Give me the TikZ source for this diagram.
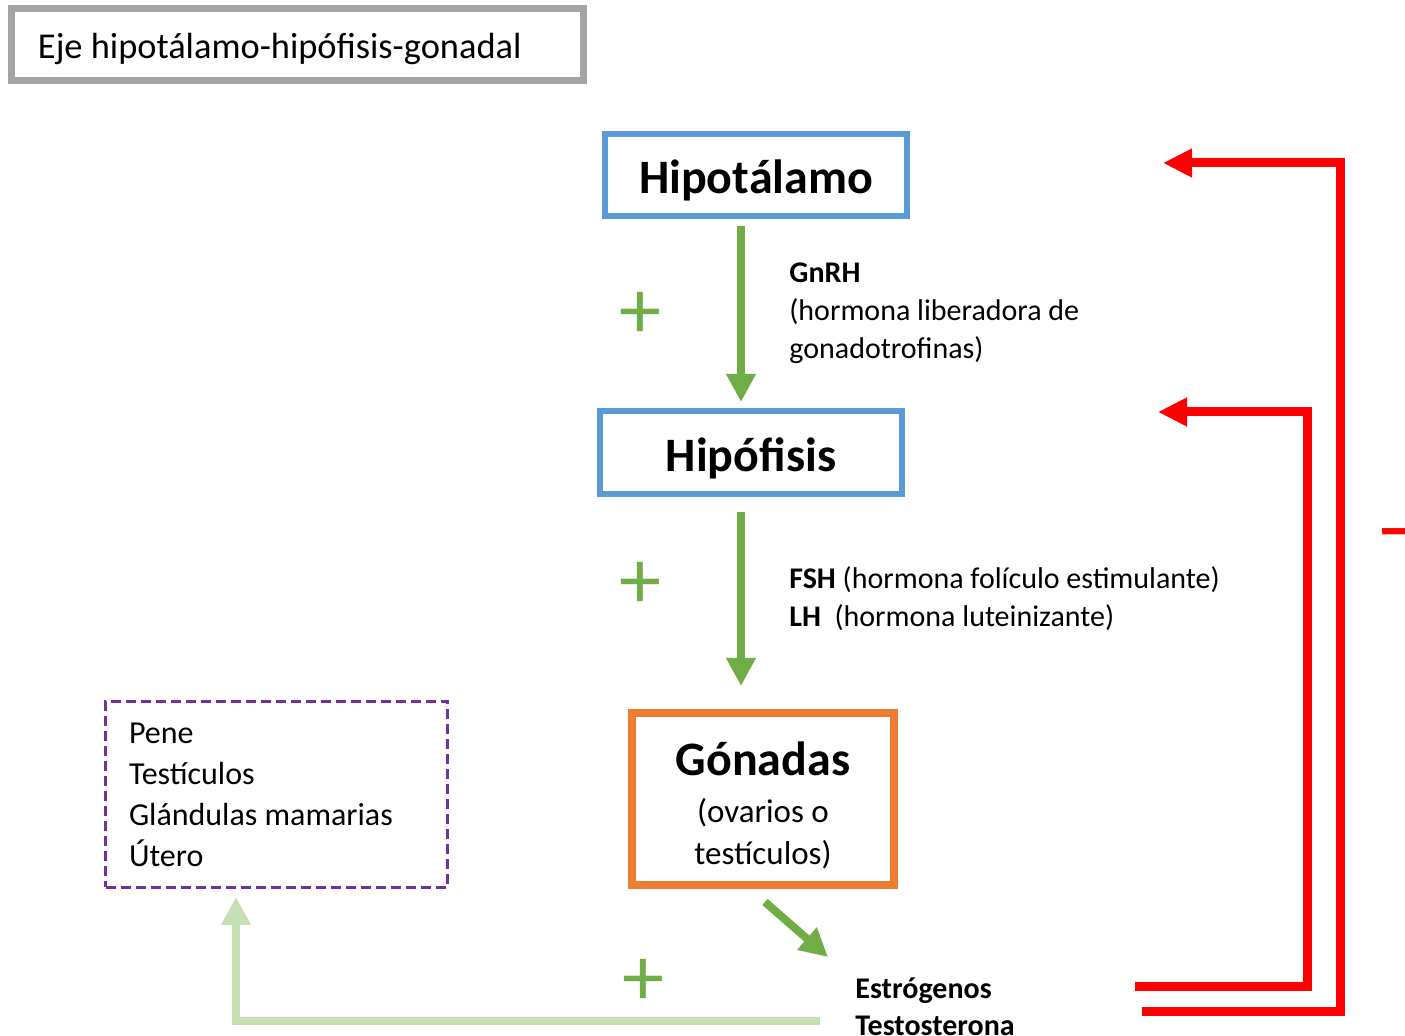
\documentclass[tikz,border=0pt]{standalone}
\usepackage{fontspec}
\setmainfont{Carlito}
\usetikzlibrary{arrows.meta}

\definecolor{boxblue}{HTML}{5B9BD5}
\definecolor{boxorange}{HTML}{ED7D31}
\definecolor{upgreen}{HTML}{70AD47}
\definecolor{palegreen}{HTML}{C5E0B4}
\definecolor{organpurple}{HTML}{7030A0}
\definecolor{titlegray}{HTML}{A5A5A5}

% lower a line of text, keeping its box size
\newcommand{\bajar}[2][3pt]{\raisebox{-#1}[\height][\depth]{#2}}

\tikzset{
	levelbox/.style={draw=#1, line width=3pt, inner sep=0pt, align=center,
		font=\fontsize{24}{28}\selectfont\bfseries},
	hormonetext/.style={anchor=north west, inner sep=0pt, align=flush left,
		font=\fontsize{15}{19}\selectfont},
	uparrow/.style={draw=upgreen, line width=4pt,
		-{Triangle[length=14pt,width=14pt]}},
	feedback/.style={draw=red, line width=4.5pt, line join=miter,
		-{Triangle[length=14.5pt,width=13.5pt]}},
	gainsign/.style={text=upgreen, inner sep=0pt, font=\fontsize{42}{42}\selectfont}
}

\begin{document}
\begin{tikzpicture}[x=0.5pt,y=-0.5pt]
\useasboundingbox (0,0) rectangle (1405,1036);

% TITLE
\node[draw=titlegray, line width=3.5pt, inner xsep=13.25pt, text width=259.5pt,
	minimum height=36pt, align=flush left, font=\fontsize{18.2}{22}\selectfont]
	(titulo) at (297.5,44.5) {\bajar[2pt]{Eje hipotálamo-hipófisis-gonadal}};

% AXIS
\node[levelbox=boxblue, minimum width=151pt, minimum height=41pt] (hipotalamo) at (756,175) {\bajar[2.5pt]{Hipotálamo}};
\node[levelbox=boxblue, minimum width=151pt, minimum height=41.5pt] (hipofisis) at (751,452.5) {\bajar{Hipófisis}};
\node[levelbox=boxorange, line width=4pt, minimum width=131pt, minimum height=86pt,
	font=\fontsize{16.5}{21}\selectfont] (gonadas) at (763,799)
	{\bajar[3.25pt]{\fontsize{24}{28}\selectfont\bfseries Gónadas}\\[2.5pt] \bajar[3.25pt]{(ovarios o}\\\bajar[3.25pt]{testículos)}};

\draw[uparrow] ([xshift=-7.5pt,yshift=-3.5pt]hipotalamo.south) -- ([xshift=-5pt,yshift=3pt]hipofisis.north);
\node[gainsign] (mas1) at (640,315) {+};
\node[hormonetext] (gnrh) at (789,262) {\textbf{GnRH}\\(hormona liberadora de\\gonadotrofinas)};

\draw[uparrow] ([xshift=-5pt,yshift=-7.5pt]hipofisis.south) -- ([xshift=-11pt,yshift=11.5pt]gonadas.north);
\node[gainsign] (mas2) at (640,585) {+};
\node[hormonetext] (fshlh) at (789,566) {\textbf{FSH} (hormona folículo estimulante)\\\textbf{LH}\ \ (hormona luteinizante)};

% SEX HORMONES
\node[hormonetext, font=\fontsize{15}{18.5}\selectfont\bfseries] (hormonas) at (855,977) {Estrógenos\\Testosterona};
\draw[uparrow] ([xshift=1pt,yshift=-6.5pt]gonadas.south) -- ([xshift=-13.5pt,yshift=10pt]hormonas.north west);

% TARGET ORGANS
\node[draw=organpurple, line width=1.5pt, dash pattern=on 5pt off 2.5pt,
	minimum width=171pt, minimum height=93pt, inner xsep=11.75pt, text width=147.5pt,
	align=flush left, font=\fontsize{16}{20.5}\selectfont]
	(organos) at (276.5,794.5) {Pene\\Testículos\\Glándulas mamarias\\Útero};
\coordinate (testo out) at (820,1021);
\coordinate (organ in) at (236,897);
\draw[uparrow, draw=palegreen, line join=miter] (testo out) -| (organ in);
\node[gainsign] (mas3) at (643,982) {+};

% NEGATIVE FEEDBACK
\coordinate (estro out) at (1135,987);
\coordinate (testo fb) at (1142,1012);
\coordinate (hipof fb) at (1158,412);
\coordinate (hipot fb) at (1163,163);
\draw[feedback] (estro out) -| (1307,412) -- (hipof fb);
\draw[feedback] (testo fb) -| (1340,163) -- (hipot fb);
\node[anchor=base west, inner sep=0pt, text=red, font=\fontsize{50}{50}\selectfont] (menos) at (1375,560) {–};

\end{tikzpicture}
\end{document}
